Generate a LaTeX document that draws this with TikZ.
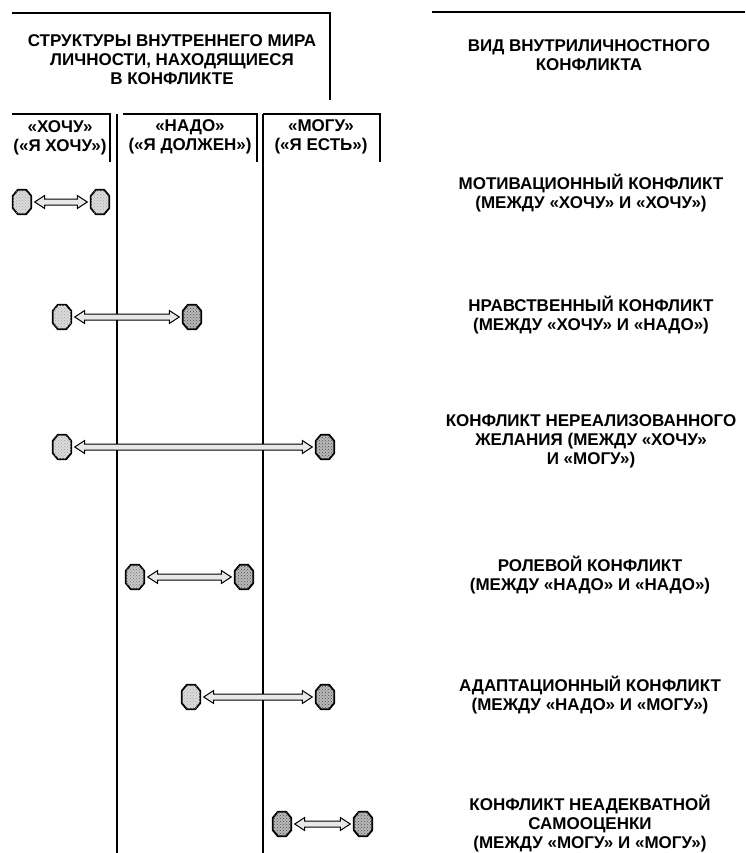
\documentclass[tikz,border=0pt]{standalone}
\usepackage{fontspec}
\setmainfont{Liberation Sans}
\usetikzlibrary{calc,patterns}

% hollow two-headed arrow between two named nodes
\newcommand\pairarrow[2]{%
  \draw[dbl] let \p1=($(#1.east)+(3.5pt,0pt)$), \p2=($(#2.west)+(-3.5pt,0pt)$) in
    (\x1,\y1) -- (\x1+10pt,\y1-6.5pt) -- (\x1+10pt,\y1-3pt) -- (\x2-10pt,\y1-3pt)
    -- (\x2-10pt,\y1-6.5pt) -- (\x2,\y1) -- (\x2-10pt,\y1+6.5pt) -- (\x2-10pt,\y1+3pt)
    -- (\x1+10pt,\y1+3pt) -- (\x1+10pt,\y1+6.5pt) -- cycle;}

% named structure node, outlined as a tall octagon
\newcommand\structure[3]{% name, position, shading style
  \node[struct] (#1) at #2 {};
  \filldraw[octline,#3]
    ($(#1.north west)+(0pt,-6pt)$) -- ($(#1.north west)+(5pt,0pt)$)
    -- ($(#1.north east)+(-5pt,0pt)$) -- ($(#1.north east)+(0pt,-6pt)$)
    -- ($(#1.south east)+(0pt,6pt)$) -- ($(#1.south east)+(-5pt,0pt)$)
    -- ($(#1.south west)+(5pt,0pt)$) -- ($(#1.south west)+(0pt,6pt)$) -- cycle;}

\begin{document}
\begin{tikzpicture}[x=1pt,y=-1pt,
  rule/.style={line width=1.3pt},
  lbl/.style={align=center,font=\bfseries\fontsize{17}{19}\selectfont,inner sep=0pt},
  struct/.style={rectangle, minimum width=18pt, minimum height=24pt, inner sep=0pt},
  octline/.style={draw=black, line width=1.8pt, line join=round},
  light/.style={fill=gray!28,
    postaction={pattern=crosshatch dots, pattern color=black!35}},
  mid/.style={fill=gray!45,
    postaction={pattern=crosshatch dots, pattern color=black!50}},
  dark/.style={fill=gray!55,
    postaction={pattern=crosshatch dots, pattern color=black!70}},
  dbl/.style={draw=black, line width=1pt, fill=gray!18, line join=miter}]

\useasboundingbox (0,0) rectangle (745,853);

% frame of the two headings and the three columns
\draw[rule] (12,13) -- (330,13) -- (330,100);
\draw[rule] (432,12) -- (745,12);
\draw[rule] (12,114) -- (110,114) -- (110,162);
\draw[rule] (123,114) -- (257,114) -- (257,162);
\draw[rule] (263,114) -- (380,114) -- (380,162);
\draw[rule] (117,114) -- (117,853);
\draw[rule] (263,114) -- (263,853);

% headings
\node[lbl] (hdrL) at (172,60)
  {СТРУКТУРЫ ВНУТРЕННЕГО МИРА\\ЛИЧНОСТИ, НАХОДЯЩИЕСЯ\\В КОНФЛИКТЕ};
\node[lbl] (hdrR) at (589,55) {ВИД ВНУТРИЛИЧНОСТНОГО\\КОНФЛИКТА};
\node[lbl] (cWant) at (60,138) {«ХОЧУ»\\(«Я ХОЧУ»)};
\node[lbl] (cMust) at (190,137) {«НАДО»\\(«Я ДОЛЖЕН»)};
\node[lbl] (cCan) at (321,137) {«МОГУ»\\(«Я ЕСТЬ»)};

% structures in conflict
\structure{a1}{(22,202)}{light}
\structure{b1}{(100,202)}{light}
\structure{a2}{(62,317)}{light}
\structure{b2}{(192,317)}{dark}
\structure{a3}{(62,447)}{light}
\structure{b3}{(325,447)}{dark}
\structure{a4}{(135,577)}{mid}
\structure{b4}{(244,577)}{dark}
\structure{a5}{(191,697)}{light}
\structure{b5}{(325,697)}{dark}
\structure{a6}{(282,824)}{dark}
\structure{b6}{(363,824)}{dark}

\pairarrow{a1}{b1}
\pairarrow{a2}{b2}
\pairarrow{a3}{b3}
\pairarrow{a4}{b4}
\pairarrow{a5}{b5}
\pairarrow{a6}{b6}

% kinds of conflict
\node[lbl] (k1) at (591,193) {МОТИВАЦИОННЫЙ КОНФЛИКТ\\(МЕЖДУ «ХОЧУ» И «ХОЧУ»)};
\node[lbl] (k2) at (591,315) {НРАВСТВЕННЫЙ КОНФЛИКТ\\(МЕЖДУ «ХОЧУ» И «НАДО»)};
\node[lbl] (k3) at (591,441) {КОНФЛИКТ НЕРЕАЛИЗОВАННОГО\\ЖЕЛАНИЯ (МЕЖДУ «ХОЧУ»\\И «МОГУ»)};
\node[lbl] (k4) at (590,575) {РОЛЕВОЙ КОНФЛИКТ\\(МЕЖДУ «НАДО» И «НАДО»)};
\node[lbl] (k5) at (590,695) {АДАПТАЦИОННЫЙ КОНФЛИКТ\\(МЕЖДУ «НАДО» И «МОГУ»)};
\node[lbl] (k6) at (590,824) {КОНФЛИКТ НЕАДЕКВАТНОЙ\\САМООЦЕНКИ\\(МЕЖДУ «МОГУ» И «МОГУ»)};
\end{tikzpicture}
\end{document}
